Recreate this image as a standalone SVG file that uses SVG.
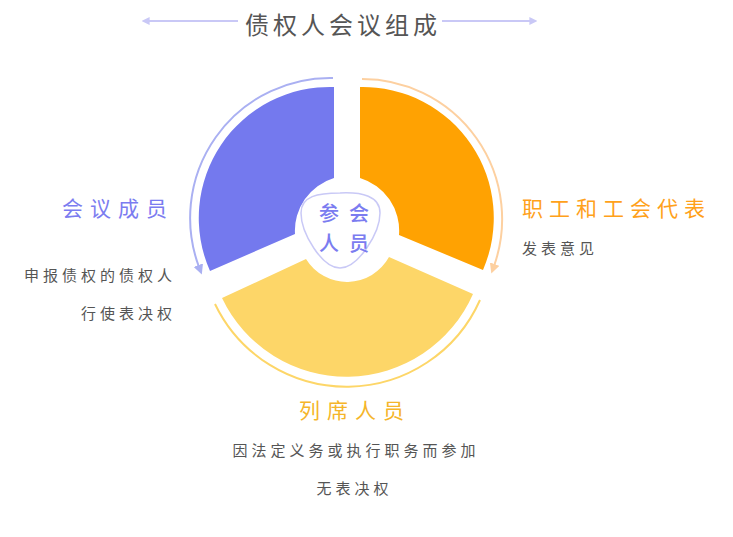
<svg xmlns="http://www.w3.org/2000/svg" width="733" height="537" viewBox="0 0 733 537">
<defs>
<style>
text{font-family:"Noto Sans CJK SC","Noto Sans",sans-serif;}
.title{font-size:24px;fill:#555;letter-spacing:4px;text-anchor:middle;}
.head{font-size:21px;letter-spacing:7px;}
.sub{font-size:15px;fill:#555;letter-spacing:4px;}
.purple{fill:#7b7cf0;}
.orange{fill:#ffa11a;}
.yellow{fill:#f5b52a;}
.ring{fill:none;stroke-width:2;}
</style>
<marker id="arrB" viewBox="0 0 10 10" refX="2" refY="5" markerWidth="5" markerHeight="5" orient="auto" markerUnits="strokeWidth">
<path d="M0,0 L10,5 L0,10 Z" fill="#aab0f2"/>
</marker>
<marker id="arrO" viewBox="0 0 10 10" refX="2" refY="5" markerWidth="5" markerHeight="5" orient="auto" markerUnits="strokeWidth">
<path d="M0,0 L10,5 L0,10 Z" fill="#fdd0a0"/>
</marker>
<marker id="arrT" viewBox="0 0 10 10" refX="2" refY="5" markerWidth="4" markerHeight="4" orient="auto" markerUnits="strokeWidth">
<path d="M0,0 L10,5 L0,10 Z" fill="#c9c8f6"/>
</marker>
</defs>

<g id="title">
<line x1="238" y1="21" x2="148" y2="21" stroke="#c9c8f6" stroke-width="2" marker-end="url(#arrT)"/>
<line x1="442" y1="21" x2="531" y2="21" stroke="#c9c8f6" stroke-width="2" marker-end="url(#arrT)"/>
<text class="title" x="343" y="34">债权人会议组成</text>
</g>

<g id="connectors">
<path class="ring" d="M333,78 A140,140 0 0 0 199,267" stroke="#aab0f2" marker-end="url(#arrB)"/>
<path class="ring" d="M362,79 A140,140 0 0 1 494,266" stroke="#fdd0a0" marker-end="url(#arrO)"/>
<path class="ring" d="M215,304 A146,146 0 0 0 480,300" stroke="#fdd668"/>
</g>

<g id="members">
<path d="M334,87 A131,131 0 0 0 210,271 L295,234 A55,55 0 0 1 334,178 Z" fill="#7479ee"/>
<text class="head purple" x="62" y="216">会议成员</text>
<text class="sub" x="24" y="281">申报债权的债权人</text>
<text class="sub" x="176" y="319" text-anchor="end">行使表决权</text>
</g>

<g id="workers">
<path d="M360,87 A131,131 0 0 1 483,270 L399,235 A55,55 0 0 0 360,178 Z" fill="#ffa202"/>
<text class="head orange" x="522" y="216" style="letter-spacing:6px">职工和工会代表</text>
<text class="sub" x="522" y="254">发表意见</text>
</g>

<g id="attendees">
<path d="M222,298 A138,138 0 0 0 473,294 L389,257 A48,48 0 0 1 306,259 Z" fill="#fdd668"/>
<text class="head yellow" x="355" y="418" text-anchor="middle">列席人员</text>
<text class="sub" x="356" y="456" text-anchor="middle">因法定义务或执行职务而参加</text>
<text class="sub" x="354.5" y="494" text-anchor="middle">无表决权</text>
</g>

<g id="center">
<path d="M340,193 C362,192 380,196 380,213 C380,233 358,268 340,268 C322,268 301,233 301,213 C301,196 318,193 340,193 Z" fill="#fff" stroke="#c9c9f6" stroke-width="1.5"/>
<text class="purple" x="349" y="221" font-size="20" font-weight="500" text-anchor="middle" letter-spacing="10">参会</text>
<text class="purple" x="349" y="251" font-size="20" font-weight="500" text-anchor="middle" letter-spacing="10">人员</text>
</g>
</svg>
